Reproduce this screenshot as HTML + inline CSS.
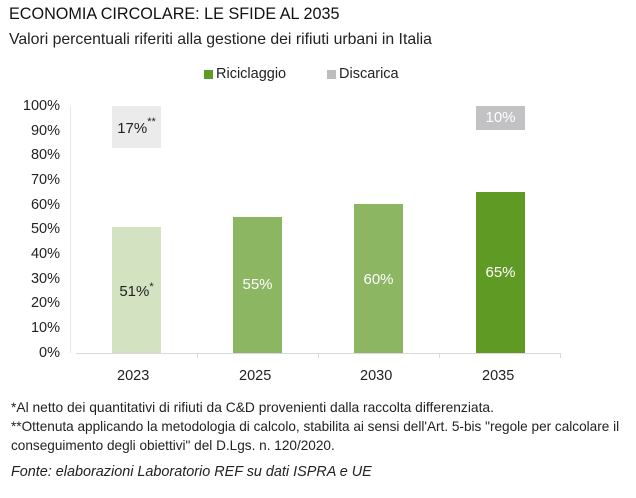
<!DOCTYPE html>
<html><head><meta charset="utf-8"><style>
body{margin:0;width:636px;height:498px;background:#fff;font-family:"Liberation Sans",sans-serif;color:#222;position:relative;overflow:hidden}
.a{position:absolute;white-space:nowrap}
.yl{position:absolute;right:576px;font-size:14.5px;color:#222;text-align:right}
.bar{position:absolute;width:49px}
.v{position:absolute;width:49px;text-align:center;font-size:15px}
</style></head><body>
<div class="a" style="left:9px;top:5px;font-size:16.2px;color:#111">ECONOMIA CIRCOLARE: LE SFIDE AL 2035</div>
<div class="a" style="left:9px;top:31px;font-size:15.8px;color:#222">Valori percentuali riferiti alla gestione dei rifiuti urbani in Italia</div>
<div class="a" style="left:204px;top:70px;width:9px;height:9px;background:#5e9a25"></div>
<div class="a" style="left:216px;top:66px;font-size:14.5px">Riciclaggio</div>
<div class="a" style="left:327px;top:70px;width:9px;height:9px;background:#bdbdbd"></div>
<div class="a" style="left:339px;top:66px;font-size:14.5px">Discarica</div>
<div class="yl" style="top:98px">100%</div>
<div class="yl" style="top:123px">90%</div>
<div class="yl" style="top:147px">80%</div>
<div class="yl" style="top:172px">70%</div>
<div class="yl" style="top:197px">60%</div>
<div class="yl" style="top:221px">50%</div>
<div class="yl" style="top:246px">40%</div>
<div class="yl" style="top:271px">30%</div>
<div class="yl" style="top:295px">20%</div>
<div class="yl" style="top:320px">10%</div>
<div class="yl" style="top:345px">0%</div>
<div class="a" style="left:70px;top:106px;width:1px;height:247px;background:#e6e6e6"></div>
<div class="a" style="left:76px;top:353px;width:484px;height:1px;background:#d9d9d9"></div>
<div class="a" style="left:197px;top:353px;width:1px;height:5px;background:#d9d9d9"></div>
<div class="a" style="left:318px;top:353px;width:1px;height:5px;background:#d9d9d9"></div>
<div class="a" style="left:439px;top:353px;width:1px;height:5px;background:#d9d9d9"></div>
<div class="a" style="left:560px;top:353px;width:1px;height:5px;background:#d9d9d9"></div>
<div class="bar" style="left:112px;top:106px;height:42px;background:#ebebeb"></div>
<div class="v" style="left:112px;top:118px;color:#222">17%<sup style="font-size:11px;position:relative;top:-2px">**</sup></div>
<div class="bar" style="left:112px;top:227px;height:126px;background:#d3e2c0"></div>
<div class="v" style="left:112px;top:281px;color:#222">51%<sup style="font-size:11px">*</sup></div>
<div class="bar" style="left:233px;top:217px;height:136px;background:#8db663"></div>
<div class="v" style="left:233px;top:276px;color:#fff">55%</div>
<div class="bar" style="left:354px;top:204px;height:149px;background:#8db663"></div>
<div class="v" style="left:354px;top:271px;color:#fff">60%</div>
<div class="bar" style="left:476px;top:106px;height:24px;background:#c2c2c4"></div>
<div class="v" style="left:476px;top:109px;color:#fff">10%</div>
<div class="bar" style="left:476px;top:192px;height:161px;background:#5f9a25"></div>
<div class="v" style="left:476px;top:264px;color:#fff">65%</div>
<div class="a" style="left:117px;top:368px;font-size:14.5px">2023</div>
<div class="a" style="left:239px;top:368px;font-size:14.5px">2025</div>
<div class="a" style="left:360px;top:368px;font-size:14.5px">2030</div>
<div class="a" style="left:482px;top:368px;font-size:14.5px">2035</div>
<div class="a" style="left:11px;top:400px;font-size:13.8px">*Al netto dei quantitativi di rifiuti da C&amp;D provenienti dalla raccolta differenziata.</div>
<div class="a" style="left:11px;top:419px;font-size:13.6px">**Ottenuta applicando la metodologia di calcolo, stabilita ai sensi dell'Art. 5-bis "regole per calcolare il</div>
<div class="a" style="left:11px;top:438px;font-size:13.6px">conseguimento degli obiettivi" del D.Lgs. n. 120/2020.</div>
<div class="a" style="left:11px;top:464px;font-size:14.4px;font-style:italic">Fonte: elaborazioni Laboratorio REF su dati ISPRA e UE</div>
</body></html>
